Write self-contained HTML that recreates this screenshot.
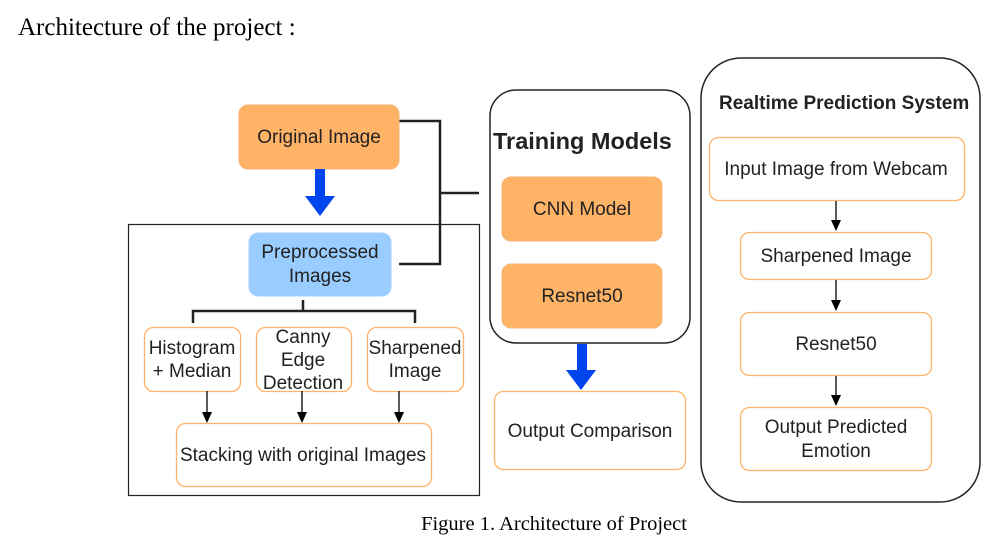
<!DOCTYPE html>
<html><head><meta charset="utf-8"><style>
html,body{margin:0;padding:0;background:#fff;}
svg{display:block;}
.s{font-family:"Liberation Sans",sans-serif;fill:#222;}
.t{font-family:"Liberation Serif",serif;fill:#000;}
</style></head><body>
<svg width="997" height="543" viewBox="0 0 997 543" xmlns="http://www.w3.org/2000/svg">
<text class="t" x="18" y="35" font-size="25">Architecture of the project :</text>
<text class="t" x="554" y="530" font-size="20.5" text-anchor="middle">Figure 1. Architecture of Project</text>

<rect x="128.5" y="224.5" width="351" height="271" fill="none" stroke="#222" stroke-width="1.2"/>

<polyline points="399,121 440,121 440,264 399,264" fill="none" stroke="#222" stroke-width="2.5"/>
<line x1="440" y1="193" x2="479" y2="193" stroke="#222" stroke-width="2.5"/>

<rect x="239" y="105" width="160" height="64" rx="9" fill="#ffb366" stroke="#f5b070"/>
<text class="s" x="319" y="143" font-size="19" text-anchor="middle">Original Image</text>
<rect x="315" y="169" width="10" height="27" fill="#0044ee"/>
<polygon points="305,196 335,196 320,216" fill="#0044ee"/>

<rect x="249" y="233" width="142" height="63" rx="9" fill="#99ccff" stroke="#a8d0fa"/>
<text class="s" x="320" y="258" font-size="19" text-anchor="middle">Preprocessed</text>
<text class="s" x="320" y="282" font-size="19" text-anchor="middle">Images</text>

<polyline points="193,323 193,311 415,311 415,323" fill="none" stroke="#222" stroke-width="2.5"/>
<line x1="303" y1="300" x2="303" y2="311" stroke="#222" stroke-width="2.5"/>

<rect x="144.5" y="327.5" width="96" height="64" rx="9" fill="#fff" stroke="#ffb366" stroke-width="1.3"/>
<text class="s" x="192" y="354" font-size="19" text-anchor="middle">Histogram</text>
<text class="s" x="192" y="377" font-size="19" text-anchor="middle">+ Median</text>
<rect x="256.5" y="327.5" width="95" height="64" rx="9" fill="#fff" stroke="#ffb366" stroke-width="1.3"/>
<text class="s" x="303" y="343" font-size="19" text-anchor="middle">Canny</text>
<text class="s" x="303" y="366" font-size="19" text-anchor="middle">Edge</text>
<text class="s" x="303" y="389" font-size="19" text-anchor="middle">Detection</text>
<rect x="367.5" y="327.5" width="96" height="64" rx="9" fill="#fff" stroke="#ffb366" stroke-width="1.3"/>
<text class="s" x="415" y="354" font-size="19" text-anchor="middle">Sharpened</text>
<text class="s" x="415" y="377" font-size="19" text-anchor="middle">Image</text>

<rect x="176.5" y="423.5" width="255" height="63" rx="9" fill="#fff" stroke="#ffb366" stroke-width="1.3"/>
<text class="s" x="303" y="461" font-size="19" text-anchor="middle">Stacking with original Images</text>

<rect x="490" y="90" width="200" height="253" rx="26" fill="#fff" stroke="#222" stroke-width="1.5"/>
<text class="s" x="493" y="149" font-size="23.5" font-weight="bold" fill="#000">Training Models</text>
<rect x="502" y="177" width="160" height="64" rx="9" fill="#ffb366" stroke="#f5b070"/>
<text class="s" x="582" y="215" font-size="19" text-anchor="middle">CNN Model</text>
<rect x="502" y="264" width="160" height="64" rx="9" fill="#ffb366" stroke="#f5b070"/>
<text class="s" x="582" y="302" font-size="19" text-anchor="middle">Resnet50</text>
<rect x="577" y="344" width="10" height="26" fill="#0044ee"/>
<polygon points="566,370 596,370 581,390" fill="#0044ee"/>
<rect x="494.5" y="391.5" width="191" height="78" rx="9" fill="#fff" stroke="#ffb366" stroke-width="1.3"/>
<text class="s" x="590" y="437" font-size="19" text-anchor="middle">Output Comparison</text>

<rect x="701" y="58" width="279" height="444" rx="40" fill="#fff" stroke="#222" stroke-width="1.5"/>
<text class="s" x="719" y="109" font-size="19" font-weight="bold" fill="#000">Realtime Prediction System</text>
<rect x="709.5" y="137.5" width="255" height="63" rx="9" fill="#fff" stroke="#ffb366" stroke-width="1.3"/>
<text class="s" x="836" y="175" font-size="19" text-anchor="middle">Input Image from Webcam</text>
<rect x="740.5" y="232.5" width="191" height="47" rx="9" fill="#fff" stroke="#ffb366" stroke-width="1.3"/>
<text class="s" x="836" y="262" font-size="19" text-anchor="middle">Sharpened Image</text>
<rect x="740.5" y="312.5" width="191" height="63" rx="9" fill="#fff" stroke="#ffb366" stroke-width="1.3"/>
<text class="s" x="836" y="350" font-size="19" text-anchor="middle">Resnet50</text>
<rect x="740.5" y="407.5" width="191" height="63" rx="9" fill="#fff" stroke="#ffb366" stroke-width="1.3"/>
<text class="s" x="836" y="433" font-size="19" text-anchor="middle">Output Predicted</text>
<text class="s" x="836" y="457" font-size="19" text-anchor="middle">Emotion</text>

<g stroke="#222" stroke-width="1.5">
<line x1="207" y1="391" x2="207" y2="414"/>
<line x1="302" y1="391" x2="302" y2="414"/>
<line x1="399" y1="391" x2="399" y2="414"/>
<line x1="836" y1="201" x2="836" y2="222"/>
<line x1="836" y1="280" x2="836" y2="302"/>
<line x1="836" y1="376" x2="836" y2="397"/>
</g>
<g fill="#000">
<polygon points="202,412 212,412 207,423"/>
<polygon points="297,412 307,412 302,423"/>
<polygon points="394,412 404,412 399,423"/>
<polygon points="831,220 841,220 836,231"/>
<polygon points="831,300 841,300 836,311"/>
<polygon points="831,395 841,395 836,406"/>
</g>
</svg>
</body></html>
